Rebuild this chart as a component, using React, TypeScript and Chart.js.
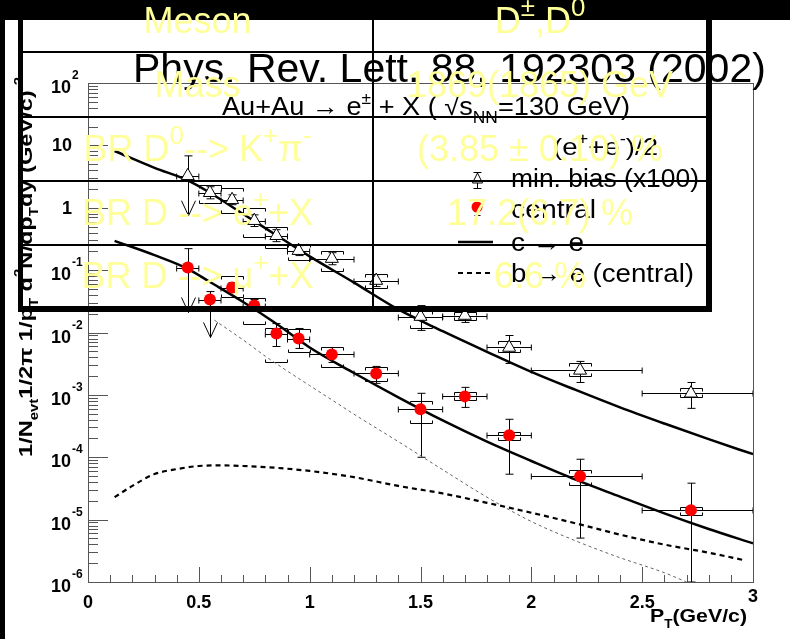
import React, { useEffect, useRef } from 'react';
import { Chart, registerables } from 'chart.js';
Chart.register(...registerables);

// ---------------- data ----------------
const binLo = [0.4, 0.5, 0.6, 0.7, 0.8, 0.9, 1.0, 1.2, 1.4, 1.6, 1.8, 2.0, 2.5];
const binHi = [0.5, 0.6, 0.7, 0.8, 0.9, 1.0, 1.2, 1.4, 1.6, 1.8, 2.0, 2.5, 3.0];
const ptX = [0.45, 0.55, 0.65, 0.75, 0.85, 0.95, 1.1, 1.3, 1.5, 1.7, 1.9, 2.22, 2.72];

// min. bias (x100)
const mbY = [3.25, 1.74, 1.34, 0.62, 0.356, 0.205, 0.153, 0.068, 0.018, 0.0187, 0.00575, 0.00247, 0.00106];
const mbStatHi = [6.79, 2.17, 1.61, 0.77, 0.445, 0.247, 0.19, 0.0847, 0.027, 0.0233, 0.00895, 0.00344, 0.00158];
const mbStatLo = [0.745, 1.39, 1.12, 0.5, 0.286, 0.171, 0.122, 0.0545, 0.0108, 0.0145, 0.00319, 0.00158, 0.000608];
const mbSysHi = [null, 2.33, 2.09, 1.0, 0.497, 0.265, 0.205, 0.0879, 0.0225, 0.0217, 0.00718, 0.00319, 0.00127];
const mbSysLo = [null, 1.2, 0.83, 0.344, 0.229, 0.147, 0.098, 0.0525, 0.0116, 0.0156, 0.00479, 0.00198, 0.000912];
const mbArrow = [true, false, false, false, false, false, false, false, false, false, false, false, false];

// central
const cY = [0.11, 0.0337, 0.0525, 0.027, 0.0096, 0.008, 0.00445, 0.00221, 0.000586, 0.000946, 0.000225, 4.97e-5, 1.42e-5];
const cStatHi = [0.221, 0.0453, 0.063, 0.0337, 0.0139, 0.0116, 0.00575, 0.00286, 0.00106, 0.00132, 0.000406, 9.29e-5, 3.84e-5];
const cStatLo = [0.0209, 0.00832, 0.0437, 0.0217, 0.00597, 0.00555, 0.00331, 0.00153, 0.0001, 0.00063, 5.35e-5, 5.06e-6, 1e-6];
const cSysHi = [null, null, 0.0817, 0.0363, 0.0116, 0.0112, 0.00575, 0.00275, 0.000787, 0.0011, 0.000251, 6.19e-5, 1.58e-5];
const cSysLo = [null, null, 0.0377, 0.0139, 0.00331, 0.00479, 0.00275, 0.00164, 0.00035, 0.000817, 0.000187, 3.56e-5, 1.18e-5];
const cArrow = [true, true, false, false, false, false, false, false, false, false, false, false, false];

// curves
const curveX = [0.12, 0.3, 0.45, 0.55, 0.7, 0.85, 1.0, 1.2, 1.4, 1.6, 1.8, 2.0, 2.2, 2.4, 2.6, 2.8, 3.0];
const ceMinBias = [8.13, 4.37, 2.75, 1.74, 0.794, 0.363, 0.166, 0.0631, 0.0234, 0.0105, 0.0049, 0.00234, 0.0012, 6.31e-4, 3.47e-4, 1.95e-4, 1.12e-4];
const ceCentral = [0.295, 0.174, 0.105, 0.0646, 0.0309, 0.0138, 0.00575, 0.00224, 9.12e-4, 3.89e-4, 1.78e-4, 8.71e-5, 4.37e-5, 2.34e-5, 1.26e-5, 7.08e-6, 4.17e-6];
const beX = [0.12, 0.2, 0.3, 0.4, 0.5, 0.6, 0.7, 0.85, 1.0, 1.2, 1.4, 1.6, 1.8, 2.0, 2.2, 2.4, 2.6, 2.8, 2.96];
const beCentral = [2.29e-5, 3.47e-5, 5.37e-5, 6.46e-5, 7.24e-5, 7.41e-5, 7.24e-5, 6.76e-5, 6.03e-5, 4.79e-5, 3.47e-5, 2.63e-5, 1.86e-5, 1.29e-5, 8.71e-6, 5.75e-6, 3.98e-6, 2.95e-6, 2.24e-6];
const thinX = [0.57, 0.7, 0.8, 0.9, 1.0, 1.1, 1.2, 1.3, 1.4, 1.6, 1.8, 2.0, 2.2, 2.4, 2.6, 2.7];
const thinY = [0.0158, 0.00759, 0.00417, 0.0024, 0.00141, 8.32e-4, 4.9e-4, 2.95e-4, 1.78e-4, 6.31e-5, 2.29e-5, 9.33e-6, 4.57e-6, 2.45e-6, 1.41e-6, 1.0e-6];

// ticks
const xTickValues = [0, 0.5, 1, 1.5, 2, 2.5, 3];
const xTickLabels = ['0', '0.5', '1', '1.5', '2', '2.5', '3'];
const yTickValues = [1e-6, 1e-5, 1e-4, 1e-3, 1e-2, 1e-1, 1, 10, 100];
const yTickBase = ['10', '10', '10', '10', '10', '10', '1', '10', '10'];
const yTickExp = ['-6', '-5', '-4', '-3', '-2', '-1', '', '', '2'];

// table
type Seg = [string, string?];
const tableLeft: Seg[][] = [
  [['Meson']],
  [['Mass']],
  [['BR D'], ['0', 'sup'], [' --> K'], ['+', 'sup'], ['π'], ['-', 'sup']],
  [['BR D --> e'], ['+', 'sup'], [' +X']],
  [['BR D --> μ'], ['+', 'sup'], [' +X']],
];
const tableRight: Seg[][] = [
  [['D'], ['±', 'sup'], [',D'], ['0', 'sup']],
  [['1869(1865) GeV']],
  [['(3.85 ± 0.10) %']],
  [['17.2(6.7) %']],
  [['6.6 %']],
];

const FF = "'Liberation Sans', Arial, Helvetica, sans-serif";
const YELLOW = '#ffff99';

type RSeg = { t: string; m: 'n' | 'sup' | 'sub' };

function drawRich(ctx: CanvasRenderingContext2D, segs: RSeg[], size: number, weight: string, fitWidth?: number) {
  const fontFor = (m: string) => `${weight} ${m === 'n' ? size : Math.round(size * 0.65)}px ${FF}`;
  let total = 0;
  const ws = segs.map((s) => {
    ctx.font = fontFor(s.m);
    const w = ctx.measureText(s.t).width;
    total += w;
    return w;
  });
  const sx = fitWidth ? fitWidth / total : 1;
  ctx.save();
  ctx.scale(sx, 1);
  let cx = 0;
  segs.forEach((s, i) => {
    ctx.font = fontFor(s.m);
    const dy = s.m === 'sup' ? -size * 0.45 : s.m === 'sub' ? size * 0.3 : 0;
    ctx.fillText(s.t, cx, dy);
    cx += ws[i];
  });
  ctx.restore();
}

function line(ctx: CanvasRenderingContext2D, x0: number, y0: number, x1: number, y1: number) {
  ctx.beginPath();
  ctx.moveTo(x0, y0);
  ctx.lineTo(x1, y1);
  ctx.stroke();
}

function drawErrors(
  ctx: CanvasRenderingContext2D, xs: any, ys: any,
  yv: number[], sLo: number[], sHi: number[], yLo: (number | null)[], yHi: (number | null)[], arrows: boolean[]
) {
  for (let i = 0; i < ptX.length; i++) {
    const px = Math.round(xs.getPixelForValue(ptX[i])) + 0.5;
    const py = Math.round(ys.getPixelForValue(yv[i])) + 0.5;
    const x0 = xs.getPixelForValue(binLo[i]);
    const x1 = xs.getPixelForValue(binHi[i]);
    line(ctx, x0, py, x1, py);
    line(ctx, x0, py - 3, x0, py + 3);
    line(ctx, x1, py - 3, x1, py + 3);
    const yt = ys.getPixelForValue(sHi[i]);
    const yb = ys.getPixelForValue(Math.max(sLo[i], 1e-6));
    line(ctx, px, yt, px, yb);
    line(ctx, px - 4, yt, px + 4, yt);
    if (arrows[i]) {
      line(ctx, px - 7, yb - 15, px, yb);
      line(ctx, px + 7, yb - 15, px, yb);
    } else {
      line(ctx, px - 4, yb, px + 4, yb);
    }
    const hi = yHi[i];
    const lo = yLo[i];
    if (hi != null && lo != null) {
      const a = Math.round(ys.getPixelForValue(hi)) + 0.5;
      const b = Math.round(ys.getPixelForValue(lo)) + 0.5;
      ctx.beginPath();
      ctx.moveTo(px - 11, a + 3); ctx.lineTo(px - 11, a); ctx.lineTo(px + 11, a); ctx.lineTo(px + 11, a + 3);
      ctx.moveTo(px - 11, b - 3); ctx.lineTo(px - 11, b); ctx.lineTo(px + 11, b); ctx.lineTo(px + 11, b - 3);
      ctx.stroke();
    }
  }
}

const decorPlugin = {
  id: 'decor',
  beforeDraw(chart: any) {
    const ctx: CanvasRenderingContext2D = chart.ctx;
    ctx.save();
    ctx.fillStyle = '#000';
    ctx.fillRect(0, 0, chart.width, chart.height);
    ctx.fillStyle = '#fff';
    ctx.fillRect(5, 20, chart.width - 5, chart.height - 20);
    ctx.restore();
  },
  beforeDatasetsDraw(chart: any) {
    const ctx: CanvasRenderingContext2D = chart.ctx;
    const xs = chart.scales.x;
    const ys = chart.scales.y;
    const a = chart.chartArea;
    ctx.save();
    // frame
    ctx.strokeStyle = '#555';
    ctx.lineWidth = 1;
    ctx.strokeRect(Math.round(a.left) + 0.5, Math.round(a.top) + 0.5, Math.round(a.right - a.left), Math.round(a.bottom - a.top));
    // y ticks
    for (let e = -6; e < 2; e++) {
      for (let m = 1; m < 10; m++) {
        const py = Math.round(ys.getPixelForValue(m * Math.pow(10, e))) + 0.5;
        line(ctx, a.left, py, a.left + (m === 1 ? 20 : 10), py);
      }
    }
    line(ctx, a.left, Math.round(ys.getPixelForValue(100)) + 0.5, a.left + 20, Math.round(ys.getPixelForValue(100)) + 0.5);
    // x ticks
    for (let k = 0; k <= 30; k++) {
      const px = Math.round(xs.getPixelForValue(k / 10)) + 0.5;
      line(ctx, px, a.bottom, px, a.bottom - (k % 5 === 0 ? 15 : 7));
    }
    // tick labels
    ctx.fillStyle = '#000';
    ctx.font = `bold 18px ${FF}`;
    ctx.textAlign = 'center';
    xTickValues.forEach((v, i) => {
      const px = xs.getPixelForValue(v);
      ctx.fillText(xTickLabels[i], px, i === xTickValues.length - 1 ? 602 : 608);
    });
    yTickValues.forEach((v, i) => {
      const py = ys.getPixelForValue(v);
      if (yTickExp[i]) {
        ctx.textAlign = 'right';
        ctx.font = `bold 18px ${FF}`;
        ctx.fillText(yTickBase[i], 71, py + 10);
        ctx.textAlign = 'left';
        ctx.font = `bold 12px ${FF}`;
        ctx.fillText(yTickExp[i], 72, py - 4);
      } else {
        ctx.textAlign = 'right';
        ctx.font = `bold 18px ${FF}`;
        ctx.fillText(yTickBase[i], 72, py + 6);
      }
    });
    ctx.textAlign = 'left';
    // x-axis title
    ctx.save();
    ctx.translate(650, 622);
    drawRich(ctx, [{ t: 'P', m: 'n' }, { t: 'T', m: 'sub' }, { t: '(GeV/c)', m: 'n' }], 19, 'bold', 97);
    ctx.restore();
    // y-axis title
    ctx.save();
    ctx.translate(32, 457);
    ctx.rotate(-Math.PI / 2);
    drawRich(ctx, [
      { t: '1/N', m: 'n' }, { t: 'evt', m: 'sub' }, { t: '1/2', m: 'n' }, { t: 'π', m: 'n' },
      { t: ' 1/p', m: 'n' }, { t: 'T', m: 'sub' }, { t: ' d', m: 'n' }, { t: '2', m: 'sup' },
      { t: 'N/dp', m: 'n' }, { t: 'T', m: 'sub' }, { t: 'dy (GeV/c)', m: 'n' }, { t: '-2', m: 'sup' },
    ], 19, 'bold', 380);
    ctx.restore();
    // titles
    ctx.font = `41px ${FF}`;
    ctx.fillText('Phys. Rev. Lett. 88, 192303 (2002)', 133, 82, 654);
    ctx.save();
    ctx.translate(222, 115);
    drawRich(ctx, [
      { t: 'Au+Au → e', m: 'n' }, { t: '±', m: 'sup' }, { t: ' + X ( ', m: 'n' }, { t: '√', m: 'n' },
      { t: 's', m: 'n' }, { t: 'NN', m: 'sub' }, { t: '=130 GeV)', m: 'n' },
    ], 25, 'normal', 408);
    ctx.restore();
    // legend
    ctx.save();
    ctx.translate(553, 155);
    drawRich(ctx, [{ t: '(e', m: 'n' }, { t: '+', m: 'sup' }, { t: '+e', m: 'n' }, { t: '-', m: 'sup' }, { t: ')/2', m: 'n' }], 24, 'normal', 105);
    ctx.restore();
    const legendTexts: [string, number, number][] = [
      ['min. bias (x100)', 187, 188],
      ['central', 218, 85],
      ['c → e', 251, 73],
      ['b → e (central)', 282, 183],
    ];
    legendTexts.forEach(([t, y, w]) => {
      ctx.save();
      ctx.translate(511, y);
      drawRich(ctx, [{ t, m: 'n' }], 25, 'normal', w);
      ctx.restore();
    });
    ctx.strokeStyle = '#000';
    ctx.lineWidth = 1;
    line(ctx, 477.5, 172, 477.5, 189);
    line(ctx, 473.5, 172.5, 481.5, 172.5);
    line(ctx, 473.5, 188.5, 481.5, 188.5);
    ctx.beginPath();
    ctx.moveTo(477.5, 173); ctx.lineTo(482.5, 183); ctx.lineTo(472.5, 183); ctx.closePath();
    ctx.fillStyle = '#fff'; ctx.fill(); ctx.stroke();
    line(ctx, 477.5, 207, 477.5, 216);
    line(ctx, 474.5, 215.5, 480.5, 215.5);
    ctx.fillStyle = '#ff0000';
    ctx.beginPath(); ctx.arc(477, 207, 5.5, 0, Math.PI * 2); ctx.fill();
    ctx.lineWidth = 2.5;
    line(ctx, 458, 242, 493, 242);
    ctx.setLineDash([5, 4]);
    ctx.lineWidth = 2;
    line(ctx, 458, 273, 493, 273);
    ctx.setLineDash([]);
    // error bars
    ctx.beginPath();
    ctx.rect(a.left, a.top, a.right - a.left, a.bottom - a.top);
    ctx.clip();
    ctx.strokeStyle = '#000';
    ctx.lineWidth = 1;
    drawErrors(ctx, xs, ys, mbY, mbStatLo, mbStatHi, mbSysLo, mbSysHi, mbArrow);
    drawErrors(ctx, xs, ys, cY, cStatLo, cStatHi, cSysLo, cSysHi, cArrow);
    ctx.restore();
  },
};

export default function App() {
  const ref = useRef<HTMLCanvasElement>(null);
  useEffect(() => {
    const canvas = ref.current!;
    const toXY = (xs: number[], ys: number[]) => xs.map((x, i) => ({ x, y: ys[i] }));
    const chart = new Chart(canvas, {
      type: 'scatter',
      data: {
        datasets: [
          {
            label: 'min. bias (x100)', data: toXY(ptX, mbY), pointStyle: 'triangle', pointRadius: 7.5,
            backgroundColor: '#fff', borderColor: '#000', borderWidth: 1,
          },
          {
            label: 'central', data: toXY(ptX, cY), pointStyle: 'circle', pointRadius: 6,
            backgroundColor: '#ff0000', borderColor: '#ff0000', borderWidth: 0,
          },
          {
            label: 'c → e (min. bias)', data: toXY(curveX, ceMinBias), showLine: true, pointRadius: 0,
            borderColor: '#000', borderWidth: 2.5, cubicInterpolationMode: 'monotone', fill: false,
          },
          {
            label: 'c → e (central)', data: toXY(curveX, ceCentral), showLine: true, pointRadius: 0,
            borderColor: '#000', borderWidth: 2.5, cubicInterpolationMode: 'monotone', fill: false,
          },
          {
            label: 'b → e (central)', data: toXY(beX, beCentral), showLine: true, pointRadius: 0,
            borderColor: '#000', borderWidth: 2.2, borderDash: [5, 4], cubicInterpolationMode: 'monotone', fill: false,
          },
          {
            label: 'thin', data: toXY(thinX, thinY), showLine: true, pointRadius: 0,
            borderColor: '#666', borderWidth: 1, borderDash: [3, 3], cubicInterpolationMode: 'monotone', fill: false,
          },
        ] as any,
      },
      options: {
        responsive: false,
        animation: false,
        events: [],
        layout: { padding: { left: 88, top: 83, right: 37, bottom: 57 } },
        plugins: { legend: { display: false }, tooltip: { enabled: false }, title: { display: false } },
        scales: {
          x: {
            type: 'linear', min: 0, max: 3,
            grid: { display: false }, ticks: { display: false }, border: { display: false },
            afterFit: (s: any) => { s.height = 0; },
          },
          y: {
            type: 'logarithmic', min: 1e-6, max: 100,
            grid: { display: false }, ticks: { display: false }, border: { display: false },
            afterFit: (s: any) => { s.width = 0; },
          },
        },
      } as any,
      plugins: [decorPlugin],
    });
    return () => chart.destroy();
  }, []);

  const rowTop = [-9, 53, 118, 182, 246];
  const rowBot = [51, 116, 180, 244, 306];
  const renderSegs = (segs: Seg[]) =>
    segs.map((s, i) =>
      s[1] === 'sup' ? (
        <span key={i} style={{ fontSize: '0.72em', position: 'relative', top: '-0.55em' }}>{s[0]}</span>
      ) : (
        <span key={i}>{s[0]}</span>
      )
    );
  const cell = (l: number, r: number, t: number, b: number): React.CSSProperties => ({
    position: 'absolute', left: l, top: t, width: r - l, height: b - t, display: 'flex',
    alignItems: 'center', justifyContent: 'center', color: YELLOW, font: `36px ${FF}`,
    lineHeight: '36px', whiteSpace: 'nowrap',
  });
  const bar = (l: number, t: number, w: number, h: number): React.CSSProperties => ({
    position: 'absolute', left: l, top: t, width: w, height: h, background: '#000',
  });

  return (
    <div style={{ position: 'absolute', left: 0, top: 0, width: 790, height: 639, overflow: 'hidden', background: '#000' }}>
      <canvas ref={ref} width={790} height={639} style={{ position: 'absolute', left: 0, top: 0, width: 790, height: 639 }} />
      <div style={bar(18, -14, 694, 5)} />
      <div style={bar(18, -14, 5, 326)} />
      <div style={bar(706, -14, 6, 326)} />
      <div style={bar(18, 306, 694, 6)} />
      {[51, 116, 180, 244].map((y) => <div key={y} style={bar(23, y, 683, 2)} />)}
      <div style={bar(372, -14, 2, 320)} />
      {tableLeft.map((segs, i) => (
        <div key={'l' + i} style={cell(23, 372, rowTop[i], rowBot[i])}>{renderSegs(segs)}</div>
      ))}
      {tableRight.map((segs, i) => (
        <div key={'r' + i} style={cell(374, 706, rowTop[i], rowBot[i])}>{renderSegs(segs)}</div>
      ))}
    </div>
  );
}
